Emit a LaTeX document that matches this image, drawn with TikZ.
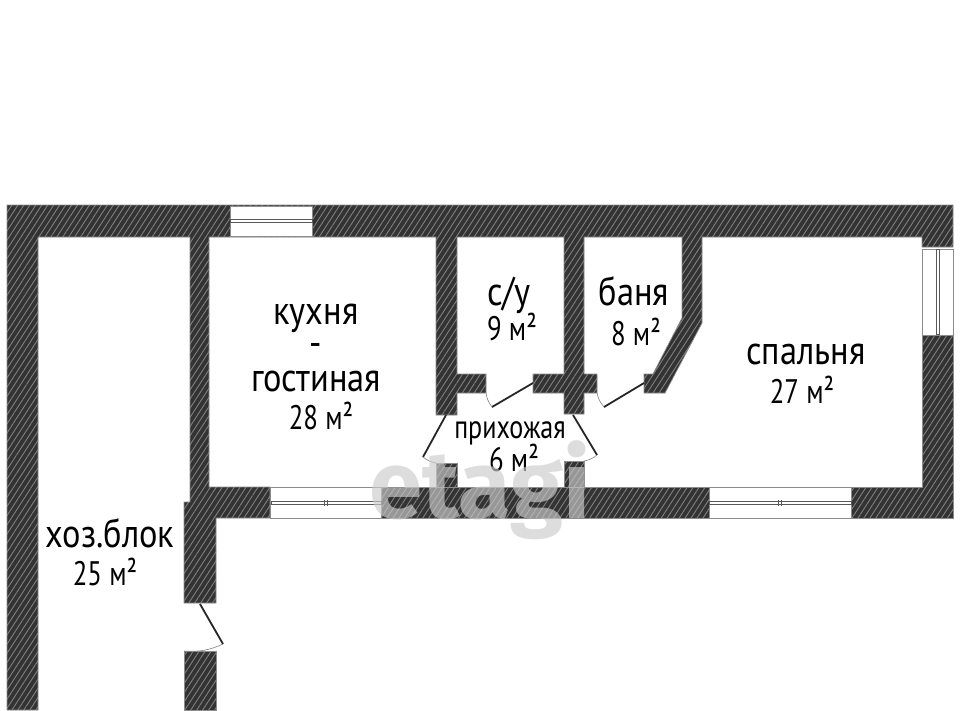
\documentclass[tikz,border=0pt]{standalone}
\usepackage{fontspec}
\setmainfont{PT Sans}
\newfontfamily\markfont{Fira Sans}
\usetikzlibrary{patterns.meta}

\tikzset{
    wallpart/.style={draw=black!45, line width=0.7pt, preaction={fill=black!80},
        pattern={Lines[angle=57,distance=5pt,line width=0.9pt]}, pattern color=black!50},
    windowpane/.style={draw=black!45, line width=1pt, fill=white},
    sashline/.style={draw=black!65, line width=1pt},
    doorleaf/.style={draw=black!85, line width=1.8pt},
    doorarc/.style={draw=black!50, line width=0.6pt},
    roomname/.style={inner sep=0pt, font=\fontsize{40}{40}\selectfont, xscale=0.86},
    roomarea/.style={inner sep=0pt, font=\fontsize{34}{34}\selectfont, xscale=0.79}
}

\begin{document}
\begin{tikzpicture}[x=1pt,y=-1pt]
    \useasboundingbox (0,0) rectangle (960,710);

    % Outer and inner walls
    \path[wallpart]
        (7,205) -- (953,205) -- (953,247) -- (922,247) -- (922,237) -- (702,237) -- (702,323)
        -- (665,393) -- (644,393) -- (644,374) -- (653,374) -- (682,318) -- (682,237) -- (584,237)
        -- (584,374) -- (597,374) -- (597,393) -- (584,393) -- (584,414) -- (564,414) -- (564,393)
        -- (533,393) -- (533,374) -- (564,374) -- (564,237) -- (457,237) -- (457,374) -- (486,374)
        -- (486,393) -- (457,393) -- (457,415) -- (436,415) -- (436,237) -- (209,237) -- (209,487)
        -- (270,487) -- (270,518) -- (216,518) -- (216,603) -- (184,603) -- (184,502) -- (190,502)
        -- (190,237) -- (38,237) -- (38,710) -- (7,710) -- cycle;
    \path[wallpart] (184,651) rectangle (216,710);
    \path[wallpart] (436,463) rectangle (457,487);
    \path[wallpart] (564,461) rectangle (584,487);
    \path[wallpart] (381,487) rectangle (709,518);
    \path[wallpart] (851,487) -- (922,487) -- (922,335) -- (953,335) -- (953,518) -- (851,518) -- cycle;

    % Windows
    \draw[windowpane] (230,206) rectangle (312,236);
    \draw[sashline] (230,219) rectangle (312,222);
    \draw[windowpane] (270,487) rectangle (381,518);
    \draw[sashline] (271,501) rectangle (381,504.5);
    \draw[sashline] (324,500) -- (324,505.5) (327,500) -- (327,505.5);
    \draw[windowpane] (709,487) rectangle (851,518);
    \draw[sashline] (709,501) rectangle (851,504.5);
    \draw[sashline] (778,500) -- (778,505.5) (781,500) -- (781,505.5);
    \draw[windowpane] (922,249) rectangle (953,335);
    \draw[sashline] (936,249) rectangle (939.5,334);

    % Doors
    \draw[doorleaf] (446,415) -- (423,457);
    \draw[doorarc] (423,457) to[bend right=14] (436,463);
    \draw[doorleaf] (573,415) -- (597,455);
    \draw[doorarc] (597,455) to[bend left=14] (584,461);
    \draw[doorleaf] (492,407) -- (533,383);
    \draw[doorarc] (492,407) to[bend left=14] (486,393);
    \draw[doorleaf] (604,407) -- (644,383);
    \draw[doorarc] (604,407) to[bend left=14] (597,393);
    \draw[doorleaf] (200,604) -- (223,644);
    \draw[doorarc] (223,644) to[bend left=14] (184,651);

    % Labels
    \node[roomname] (kitchen) at (316,318) {кухня};
    \node[roomname] (dash) at (316,350) {-};
    \node[roomname] (lounge) at (316,381) {гостиная};
    \node[roomarea] (kitchenarea) at (321,416) {28 м²};
    \node[roomname] (wc) at (509,295) {с/у};
    \node[roomarea] (wcarea) at (512,327) {9 м²};
    \node[roomname] (bath) at (634,291) {баня};
    \node[roomarea] (batharea) at (636,332) {8 м²};
    \node[roomname] (bedroom) at (806,354) {спальня};
    \node[roomarea] (bedroomarea) at (802,390) {27 м²};
    \node[roomarea, font=\fontsize{33}{33}\selectfont] (hall) at (510,433) {прихожая};
    \node[roomarea] (hallarea) at (514,458) {6 м²};
    \node[roomname] (shed) at (110,533) {хоз.блок};
    \node[roomarea] (shedarea) at (105,572) {25 м²};

    % Watermark
    \node[inner sep=0pt, anchor=base, text=black!20, opacity=0.66, font=\markfont\bfseries\fontsize{96}{96}\selectfont] (brand) at (480,518) {etagi};
\end{tikzpicture}
\end{document}
